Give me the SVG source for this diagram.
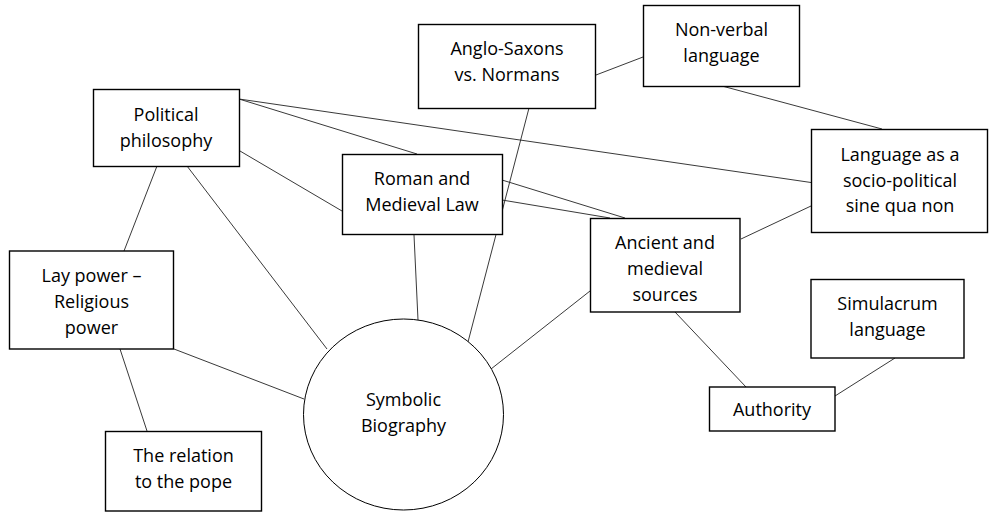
<svg xmlns="http://www.w3.org/2000/svg" width="989" height="514" viewBox="0 0 989 514">
<style>
.box{fill:#fff;stroke:#000;stroke-width:1.4}
.circ{fill:#fff;stroke:#000;stroke-width:1}
.edge line{stroke:#222;stroke-width:0.9}
text{font-family:"Open Sans","Liberation Sans",sans-serif;font-size:18px;fill:#000;text-anchor:middle}
</style>
<rect width="989" height="514" fill="#fff"/>
<g id="connectors" class="edge">
<line x1="239" y1="99" x2="417" y2="154"/>
<line x1="239" y1="99" x2="811" y2="182.5"/>
<line x1="240" y1="151" x2="342" y2="211"/>
<line x1="157" y1="166" x2="124" y2="251"/>
<line x1="187" y1="166" x2="327" y2="349"/>
<line x1="529" y1="108" x2="468" y2="342"/>
<line x1="596" y1="75" x2="643" y2="57"/>
<line x1="722" y1="86" x2="882" y2="129"/>
<line x1="502" y1="180" x2="625" y2="218"/>
<line x1="502" y1="200" x2="610" y2="218"/>
<line x1="741" y1="239" x2="811" y2="206"/>
<line x1="414" y1="235" x2="418" y2="320"/>
<line x1="590" y1="291" x2="491" y2="369"/>
<line x1="675" y1="312" x2="746" y2="387"/>
<line x1="835" y1="396" x2="895" y2="358"/>
<line x1="174" y1="349" x2="304" y2="399"/>
<line x1="120" y1="349" x2="147" y2="431"/>
</g>
<g id="political-philosophy"><rect class="box" x="93.5" y="89.5" width="146" height="77"/><text x="166" y="121">Political</text><text x="166" y="146.7">philosophy</text></g>
<g id="anglo-saxons"><rect class="box" x="418.5" y="24.5" width="177" height="84"/><text x="507" y="55">Anglo-Saxons</text><text x="507" y="81">vs. Normans</text></g>
<g id="non-verbal"><rect class="box" x="643.5" y="5.5" width="156" height="81"/><text x="721.5" y="35.7">Non-verbal</text><text x="721.5" y="61.5">language</text></g>
<g id="roman-law"><rect class="box" x="342.5" y="154.5" width="160" height="80"/><text x="422" y="185">Roman and</text><text x="422" y="210.7">Medieval Law</text></g>
<g id="language-socio"><rect class="box" x="811.5" y="129.5" width="176" height="103"/><text x="900" y="161">Language as a</text><text x="900" y="186.7">socio-political</text><text x="900" y="212.3">sine qua non</text></g>
<g id="ancient-sources"><rect class="box" x="590.5" y="218.5" width="149.5" height="93.5"/><text x="665" y="249.3">Ancient and</text><text x="665" y="275">medieval</text><text x="665" y="301">sources</text></g>
<g id="lay-power"><rect class="box" x="9.5" y="251" width="164" height="98"/><text x="91.5" y="282.3">Lay power –</text><text x="91.5" y="308.3">Religious</text><text x="91.5" y="334">power</text></g>
<g id="symbolic-biography"><ellipse class="circ" cx="403.5" cy="414.5" rx="100" ry="95.5"/><text x="403.5" y="406">Symbolic</text><text x="403.5" y="431.7">Biography</text></g>
<g id="pope"><rect class="box" x="105.5" y="431.5" width="156" height="79.5"/><text x="183.5" y="462">The relation</text><text x="183.5" y="488">to the pope</text></g>
<g id="simulacrum"><rect class="box" x="811" y="279.5" width="153" height="78.5"/><text x="887.5" y="310">Simulacrum</text><text x="887.5" y="335.5">language</text></g>
<g id="authority"><rect class="box" x="709.5" y="387" width="125.5" height="44"/><text x="772" y="416">Authority</text></g>
</svg>
